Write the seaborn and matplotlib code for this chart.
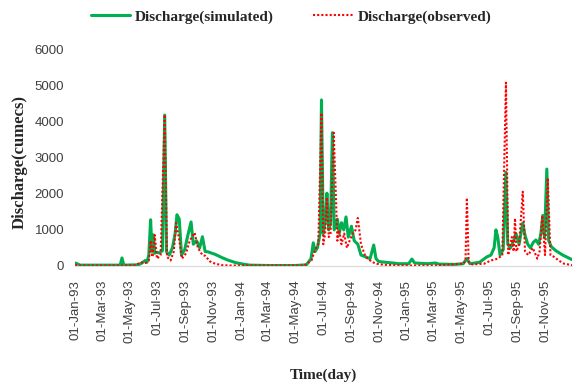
import pandas as pd
import seaborn as sns
import matplotlib.pyplot as plt
import matplotlib.dates as mdates

# Simulated discharge (cumecs), breakpoints
sim_dates = [
    "1993-01-01", "1993-01-05", "1993-01-12", "1993-04-10", "1993-04-14", "1993-04-18",
    "1993-05-20", "1993-05-28", "1993-06-04", "1993-06-08", "1993-06-12", "1993-06-16",
    "1993-06-19", "1993-06-22", "1993-06-25", "1993-06-28", "1993-07-05", "1993-07-12",
    "1993-07-17", "1993-07-21", "1993-07-27", "1993-08-03", "1993-08-09", "1993-08-13",
    "1993-08-18", "1993-08-23", "1993-08-30", "1993-09-05", "1993-09-13", "1993-09-18",
    "1993-09-25", "1993-10-02", "1993-10-08", "1993-10-14", "1993-10-20", "1993-11-05",
    "1993-11-20", "1993-12-03", "1993-12-20", "1994-01-05", "1994-01-20", "1994-03-01",
    "1994-05-01", "1994-05-25", "1994-06-04", "1994-06-09", "1994-06-13", "1994-06-18",
    "1994-06-24", "1994-06-27", "1994-07-01", "1994-07-06", "1994-07-09", "1994-07-13",
    "1994-07-17", "1994-07-21", "1994-07-25", "1994-08-01", "1994-08-05", "1994-08-10",
    "1994-08-15", "1994-08-20", "1994-08-25", "1994-09-01", "1994-09-07", "1994-09-15",
    "1994-09-22", "1994-10-02", "1994-10-12", "1994-10-20", "1994-10-25", "1994-10-31",
    "1994-11-15", "1994-12-01", "1994-12-14", "1995-01-05", "1995-01-12", "1995-01-18",
    "1995-02-15", "1995-03-05", "1995-03-12", "1995-04-15", "1995-05-05", "1995-05-13",
    "1995-05-20", "1995-06-10", "1995-06-26", "1995-07-05", "1995-07-12", "1995-07-16",
    "1995-07-20", "1995-07-25", "1995-08-01", "1995-08-07", "1995-08-11", "1995-08-17",
    "1995-08-24", "1995-08-29", "1995-09-05", "1995-09-13", "1995-09-18", "1995-09-24",
    "1995-09-30", "1995-10-06", "1995-10-12", "1995-10-18", "1995-10-23", "1995-10-27",
    "1995-10-31", "1995-11-05", "1995-11-09", "1995-11-15", "1995-11-25", "1995-12-10",
    "1995-12-31",
]
sim_values = [
    80, 60, 20, 20, 220, 20,
    30, 80, 150, 100, 300, 1280,
    400, 860, 350, 380, 360, 420,
    4190, 390, 300, 500, 900, 1420,
    1300, 300, 450, 800, 1220, 600,
    700, 500, 810, 400, 390, 320,
    230, 160, 90, 50, 20, 10,
    10, 30, 200, 640, 400, 500,
    900, 4610, 900, 1300, 2020, 1000,
    1200, 3700, 1000, 1300, 900, 1200,
    1000, 1360, 800, 1100, 700, 600,
    300, 250, 200, 580, 200, 120,
    100, 80, 60, 60, 190, 80,
    60, 80, 50, 40, 60, 200,
    60, 100, 250, 300, 500, 1000,
    800, 300, 450, 2600, 600, 500,
    700, 900, 600, 1190, 850, 600,
    500, 650, 720, 600, 900, 1400,
    800, 2690, 700, 530, 420, 300,
    170,
]

# Observed discharge (cumecs)
obs_dates = [
    "1993-01-01", "1993-01-08", "1993-04-10", "1993-05-15", "1993-05-24", "1993-06-05",
    "1993-06-12", "1993-06-16", "1993-06-20", "1993-06-25", "1993-06-30", "1993-07-08",
    "1993-07-17", "1993-07-22", "1993-07-30", "1993-08-06", "1993-08-11", "1993-08-17",
    "1993-08-24", "1993-09-02", "1993-09-10", "1993-09-21", "1993-09-28", "1993-10-08",
    "1993-10-14", "1993-10-25", "1993-11-05", "1993-11-20", "1993-12-10", "1994-01-10",
    "1994-05-20", "1994-06-05", "1994-06-13", "1994-06-20", "1994-06-27", "1994-07-01",
    "1994-07-05", "1994-07-09", "1994-07-13", "1994-07-17", "1994-07-24", "1994-08-01",
    "1994-08-05", "1994-08-10", "1994-08-16", "1994-08-22", "1994-08-28", "1994-09-04",
    "1994-09-10", "1994-09-15", "1994-09-22", "1994-10-02", "1994-10-15", "1994-10-25",
    "1994-11-10", "1994-12-01", "1995-01-05", "1995-03-01", "1995-05-05", "1995-05-10",
    "1995-05-13", "1995-05-17", "1995-05-25", "1995-06-20", "1995-07-05", "1995-07-20",
    "1995-07-30", "1995-08-07", "1995-08-12", "1995-08-20", "1995-08-24", "1995-08-27",
    "1995-08-30", "1995-09-05", "1995-09-13", "1995-09-18", "1995-09-25", "1995-10-05",
    "1995-10-15", "1995-10-20", "1995-10-26", "1995-11-01", "1995-11-07", "1995-11-13",
    "1995-11-21", "1995-12-01", "1995-12-13", "1995-12-31",
]
obs_values = [
    30, 10, 10, 20, 100, 80,
    150, 700, 250, 860, 200, 300,
    4200, 250, 150, 400, 1190, 800,
    200, 350, 700, 920, 500, 300,
    280, 120, 60, 20, 10, 10,
    10, 150, 450, 600, 4250, 600,
    900, 1900, 800, 900, 3700, 700,
    1000, 600, 900, 500, 700, 900,
    1000, 1330, 600, 250, 120, 60,
    30, 20, 10, 10, 60, 150,
    1890, 100, 40, 60, 150, 200,
    300, 5090, 300, 800, 400, 1320,
    400, 600, 2060, 400, 300, 500,
    200, 400, 1400, 300, 2440, 300,
    250, 150, 60, 20,
]

df_sim = pd.DataFrame({"date": pd.to_datetime(sim_dates), "discharge": sim_values})
df_obs = pd.DataFrame({"date": pd.to_datetime(obs_dates), "discharge": obs_values})

sns.set_style("white")
fig = plt.figure(figsize=(5.74, 3.87), dpi=100)
ax = fig.add_axes([0.131, 0.313, 0.866, 0.558])

sns.lineplot(data=df_sim, x="date", y="discharge", ax=ax, color="#00B050",
             linewidth=2.2, label="Discharge(simulated)")
sns.lineplot(data=df_obs, x="date", y="discharge", ax=ax, color="#FF0000",
             linewidth=1.5, linestyle=(0, (1, 1)), label="Discharge(observed)")

ax.set_xlim(pd.Timestamp("1993-01-01"), pd.Timestamp("1995-12-31"))
ax.set_ylim(0, 6000)
ax.set_yticks(range(0, 7000, 1000))

ax.xaxis.set_major_locator(mdates.MonthLocator(bymonth=[1, 3, 5, 7, 9, 11]))
ax.xaxis.set_major_formatter(mdates.DateFormatter("%d-%b-%y"))
plt.setp(ax.get_xticklabels(), rotation=90, fontsize=9.5, family="Liberation Sans", color="#404040")
plt.setp(ax.get_yticklabels(), fontsize=9.5, family="Liberation Sans", color="#404040")
ax.tick_params(axis="y", length=0, pad=8)
ax.tick_params(axis="x", length=4, color="#d9d9d9", pad=6)

for side in ["top", "right", "left"]:
    ax.spines[side].set_visible(False)
ax.spines["bottom"].set_color("#d9d9d9")

ax.set_xlabel("Time(day)", family="Liberation Serif", fontweight="bold", fontsize=11, labelpad=18)
ax.set_ylabel("Discharge(cumecs)", family="Liberation Serif", fontweight="bold", fontsize=12)
ax.yaxis.set_label_coords(-0.095, 0.48)

ax.legend(loc="center", bbox_to_anchor=(0.507, 0.956), bbox_transform=fig.transFigure,
          ncol=2, frameon=False, prop={"family": "Liberation Serif", "size": 11, "weight": "bold"},
          handlelength=2.6, handletextpad=0.3, columnspacing=2.6)

fig.savefig("out.png", dpi=100)
